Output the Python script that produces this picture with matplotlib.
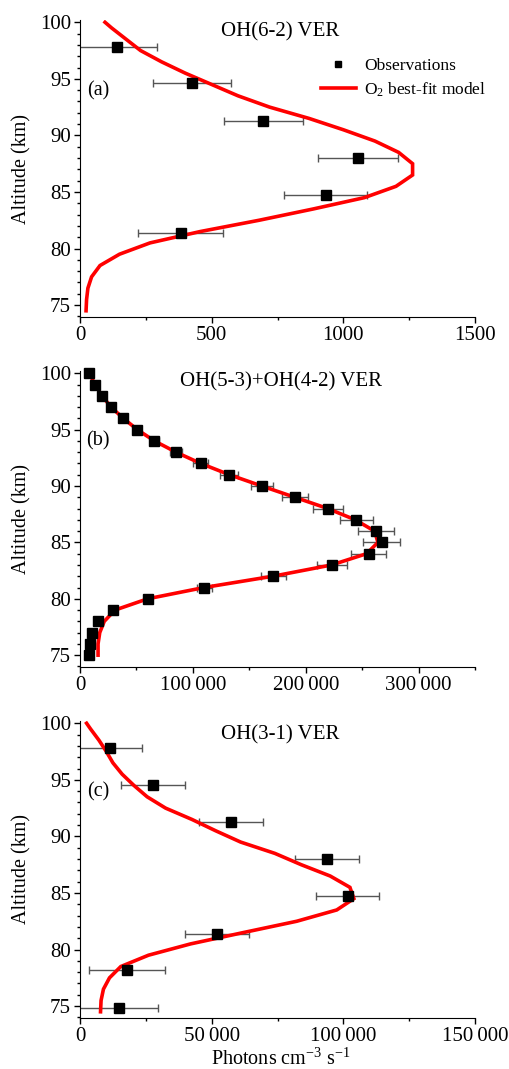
import matplotlib
matplotlib.use("Agg")
import matplotlib.pyplot as plt
from matplotlib.lines import Line2D
from matplotlib.ticker import MultipleLocator, FixedLocator, FixedFormatter

plt.rcParams['font.family'] = ['Liberation Serif', 'DejaVu Serif']
plt.rcParams['mathtext.fontset'] = 'custom'
plt.rcParams['mathtext.rm'] = 'Liberation Serif'
plt.rcParams['mathtext.it'] = 'Liberation Serif:italic'

# ---------------- data ----------------
# Panel (a) OH(6-2)
a_obs_alt = [97.85, 94.6, 91.3, 88.0, 84.7, 81.4]
a_obs_val = [142, 425, 696, 1057, 933, 382]
a_obs_err = [150, 148, 149, 152, 158, 161]
a_mod_alt = [74.5, 75.5, 76.5, 77.5, 78.5, 79.5, 80.5, 81.5, 82.5, 83.5, 84.5, 85.5, 86.5,
             87.5, 88.5, 89.5, 90.5, 91.5, 92.5, 93.5, 94.5, 95.5, 96.5, 97.5, 98.5, 99.5, 100.0]
a_mod_val = [23, 25, 30, 44, 76, 150, 266, 456, 680, 886, 1080, 1200, 1263,
             1263, 1210, 1120, 1000, 870, 720, 600, 500, 400, 310, 230, 175, 120, 95]

# Panel (b) OH(5-3)+OH(4-2)
b_obs_alt = [75, 76, 77, 78, 79, 80, 81, 82, 83, 84, 85, 86, 87, 88, 89, 90, 91, 92, 93, 94,
             95, 96, 97, 98, 99, 100]
b_obs_val = [8300, 9200, 10900, 15700, 29600, 60000, 110300, 171400, 223200, 255700, 267500,
             262500, 244800, 219600, 190400, 161100, 132400, 107000, 85100, 65900, 50800,
             38400, 27500, 19500, 13300, 8300]
b_obs_err = [500, 550, 650, 950, 1800, 3600, 6900, 10800, 13300, 15500, 16300, 15800, 14600,
             13400, 11200, 9600, 8000, 6600, 5100, 4000, 3000, 2300, 1650, 1200, 800, 500]
b_mod_alt = [75, 76, 77, 78, 79, 80, 81, 82, 83, 84, 85, 86, 87, 88, 89, 90, 91, 92, 93, 94,
             95, 96, 97, 98, 99, 100]
b_mod_val = [16000, 16000, 17500, 21500, 31000, 60000, 110000, 171000, 223000, 254000, 264000,
             261000, 244000, 219600, 190400, 161100, 132400, 107000, 85100, 65900, 50800,
             38400, 27500, 19500, 13300, 8300]

# Panel (c) OH(3-1)
c_obs_alt = [97.85, 94.55, 91.3, 88.0, 84.7, 81.4, 78.2, 74.85]
c_obs_val = [11400, 27600, 57200, 93700, 101600, 52200, 17700, 14800]
c_obs_err = [12000, 12100, 12150, 12150, 12100, 12150, 14400, 15000]
c_mod_alt = [74.5, 75.5, 76.5, 77.5, 78.5, 79.5, 80.5, 81.5, 82.5, 83.5, 84.5, 85.5, 86.5,
             87.5, 88.5, 89.5, 90.5, 91.5, 92.5, 93.5, 94.5, 95.5, 96.5, 97.5, 98.5, 99.5, 100.0]
c_mod_val = [7800, 8000, 8900, 11200, 15500, 26000, 42000, 62000, 82300, 97500, 104000, 102500,
             95000, 84000, 74000, 61000, 51500, 42500, 32500, 25500, 20500, 16000, 12500, 10000,
             7200, 4000, 2500]

titles = ["OH(6-2) VER", "OH(5-3)+OH(4-2) VER", "OH(3-1) VER"]
panel_tags = ["(a)", "(b)", "(c)"]
x_ticks = [[0, 500, 1000, 1500], [0, 100000, 200000, 300000], [0, 50000, 100000, 150000]]
x_ticklabels = [["0", "500", "1000", "1500"],
                ["0", "100\u2009000", "200\u2009000", "300\u2009000"],
                ["0", "50\u2009000", "100\u2009000", "150\u2009000"]]
x_minor = [250, 50000, 25000]
x_lims = [(0, 1500), (0, 350000), (0, 150000)]

# ---------------- figure ----------------
W, H = 509, 1069
fig = plt.figure(figsize=(W / 100, H / 100), dpi=100)

def frac_box(top_px, bottom_px, left_px=80, right_px=475):
    return [left_px / W, 1 - bottom_px / H, (right_px - left_px) / W, (bottom_px - top_px) / H]

axes = [fig.add_axes(frac_box(20, 317)),
        fig.add_axes(frac_box(371, 667)),
        fig.add_axes(frac_box(721, 1018))]

obs = [(a_obs_alt, a_obs_val, a_obs_err), (b_obs_alt, b_obs_val, b_obs_err),
       (c_obs_alt, c_obs_val, c_obs_err)]
mods = [(a_mod_alt, a_mod_val), (b_mod_alt, b_mod_val), (c_mod_alt, c_mod_val)]
title_pos = [(0.506, 0.960), (0.509, 0.964), (0.506, 0.953)]
tag_pos = [0.761, 0.765, 0.762]

for i, ax in enumerate(axes):
    alt, val, err = obs[i]
    malt, mval = mods[i]
    ax.errorbar(val, alt, xerr=err, fmt='none', ecolor='#555555', elinewidth=1.0,
                capsize=3, capthick=1.0, zorder=2)
    ax.plot(mval, malt, color='#ff0000', lw=2.6, zorder=3, solid_joinstyle='miter')
    ax.plot(val, alt, 's', color='black', ms=7, zorder=4, clip_on=False)
    ax.set_xlim(*x_lims[i])
    ax.set_ylim(73.95, 100.2)
    ax.spines['top'].set_visible(False)
    ax.spines['right'].set_visible(False)
    ax.xaxis.set_major_locator(FixedLocator(x_ticks[i]))
    ax.xaxis.set_major_formatter(FixedFormatter(x_ticklabels[i]))
    ax.xaxis.set_minor_locator(MultipleLocator(x_minor[i]))
    ax.yaxis.set_major_locator(MultipleLocator(5))
    ax.yaxis.set_minor_locator(MultipleLocator(1))
    ax.tick_params(which='major', direction='out', length=4.5, width=1, labelsize=15, pad=2)
    ax.tick_params(which='minor', direction='out', length=2.5, width=1)
    ax.set_ylabel("Altitude (km)", fontsize=14.5)
    ax.yaxis.set_label_coords(-0.122, 0.5)
    ax.text(title_pos[i][0], title_pos[i][1], titles[i], transform=ax.transAxes,
            ha='center', va='center', fontsize=15)
    ax.text(0.046, tag_pos[i], panel_tags[i], transform=ax.transAxes,
            ha='center', va='center', fontsize=14.5)

fig.text(281 / W, 1 - 1065 / H, "Photons cm$^{-3}$ s$^{-1}$", fontsize=14.5,
         ha='center', va='baseline')

handles = [Line2D([], [], marker='s', color='black', ls='none', ms=4.5),
           Line2D([], [], color='#ff0000', lw=2.6)]
axes[0].legend(handles, ["Observations", "O$_2$ best-fit model"], loc='upper left',
               bbox_to_anchor=(321 / W, 1 - 58 / H), bbox_transform=fig.transFigure,
               frameon=False, borderpad=0, borderaxespad=0, handlelength=2.0,
               handletextpad=0.5, labelspacing=0.35, fontsize=12.5)

fig.savefig("out.png", dpi=100)
